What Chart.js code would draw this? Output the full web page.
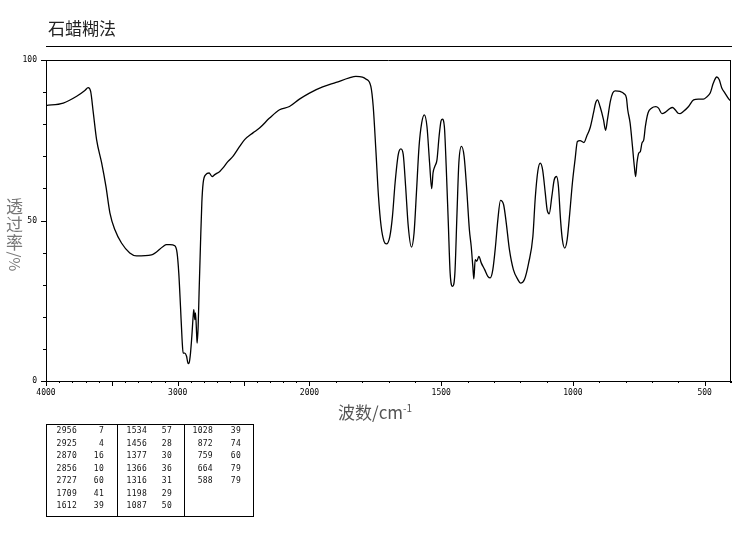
<!DOCTYPE html>
<html><head><meta charset="utf-8">
<script src="https://cdn.jsdelivr.net/npm/chart.js@4.4.1/dist/chart.umd.min.js"></script>
<style>
html,body{margin:0;padding:0;background:#fff;}
#wrap{position:relative;width:737px;height:539px;overflow:hidden;background:#fff;}
#c{position:absolute;left:0;top:0;}
#title{position:absolute;left:48px;top:19px;font-size:17px;line-height:17px;font-family:"Noto Sans CJK SC";color:#222;white-space:nowrap;}
#rule{position:absolute;left:46px;top:46px;width:686px;height:1px;background:#000;}
#ylab{position:absolute;left:6px;top:197px;width:17px;font-size:17px;line-height:18px;font-family:"Noto Sans CJK SC";color:#777;}
#ylab .ch{display:block;width:17px;height:18px;text-align:center;}
#ylab .rot{display:block;width:17px;height:18px;text-align:center;transform:rotate(90deg);transform-origin:50% 50%;font-size:15px;}
#xlab{position:absolute;left:338px;top:403px;font-size:17px;line-height:17px;font-family:"Noto Sans CJK SC";color:#555;white-space:nowrap;}
#xlab sup{font-size:10px;vertical-align:7px;line-height:0;}
#tbl{position:absolute;left:46px;top:424px;width:206px;height:91px;border:1px solid #000;}
#tbl .sep{position:absolute;top:0;width:1px;height:91px;background:#000;}
#tbl .cell{position:absolute;font-family:"DejaVu Sans Mono";font-size:8px;line-height:9px;letter-spacing:0.3px;color:#111;text-align:right;white-space:nowrap;}
</style>
</head><body>
<div id="wrap">
<canvas id="c" width="737" height="539"></canvas>
<div id="title">石蜡糊法</div>
<div id="rule"></div>
<div id="ylab"><span class="ch">透</span><span class="ch">过</span><span class="ch">率</span><span class="rot">/%</span></div>
<div id="xlab">波数/cm<sup>-1</sup></div>
<div id="tbl"></div>
</div>
<script>
// ---- data ----
const wavenumbers = [4000,3869,3767,3705,3680,3661,3641,3616,3578,3545,3515,3477,3427,3364,3313,3199,3111,3086,3060,3022,3005,2992,2979,2967,2959,2946,2933,2921,2914,2903,2893,2883,2878,2870,2865,2857,2853,2845,2838,2827,2817,2807,2787,2762,2739,2719,2681,2656,2618,2581,2530,2492,2429,2379,2303,2227,2152,2076,2000,1950,1899,1849,1824,1799,1786,1767,1758,1748,1738,1728,1717,1708,1695,1685,1675,1663,1653,1644,1635,1625,1613,1603,1594,1584,1574,1564,1554,1544,1536,1531,1524,1516,1508,1501,1496,1488,1481,1473,1466,1457,1448,1440,1433,1423,1413,1403,1393,1386,1380,1376,1371,1365,1357,1348,1335,1323,1314,1304,1294,1285,1275,1263,1253,1241,1226,1209,1199,1184,1168,1152,1143,1133,1124,1115,1105,1098,1090,1080,1071,1062,1055,1047,1040,1031,1022,1012,1002,992,983,973,958,948,935,922,914,907,897,884,876,869,858,849,840,821,806,797,792,783,774,767,762,757,750,744,738,731,725,715,702,685,675,662,650,635,622,612,602,593,580,561,542,524,505,492,479,467,454,445,435,423,408,400];
const transmittance = [85.8,86.6,88.7,90.5,91.4,90.2,83.6,75.2,68.0,60.6,52.4,47.1,43.0,39.9,39.0,39.3,41.9,42.5,42.5,42.1,39.9,33.6,23.2,12.9,8.7,8.7,7.7,5.4,5.6,8.7,13.9,20.1,22.2,19.1,21.2,15.0,11.8,17.0,27.4,43.0,55.5,61.7,64.3,64.8,63.7,64.3,65.3,66.4,68.4,70.0,73.1,75.2,77.3,78.8,81.9,84.5,85.5,87.8,89.7,91.6,93.0,94.4,94.9,94.7,94.1,91.8,85.5,72.0,57.5,48.2,43.5,42.7,45.0,51.3,61.7,70.5,72.3,70.5,60.6,48.2,41.7,46.1,58.6,73.1,80.4,82.9,79.3,67.9,59.9,64.8,66.9,68.9,76.2,80.9,81.6,79.3,66.9,49.2,33.6,29.5,33.6,52.3,67.9,73.1,70.0,59.6,47.1,41.9,35.7,31.8,37.8,37.3,38.8,36.8,34.7,32.6,32.1,34.7,41.9,50.2,56.3,54.9,49.2,40.9,34.7,31.6,30.5,31.6,36.8,45.0,57.0,65.5,67.9,65.8,58.6,53.4,52.1,57.5,62.7,63.7,60.6,50.2,44.0,41.4,44.0,52.3,61.7,68.9,74.6,74.9,74.3,76.2,78.8,83.5,86.6,87.6,85.5,81.4,78.1,81.4,87.1,89.7,90.4,90.2,89.5,88.2,84.5,80.4,73.1,66.9,63.7,67.9,71.0,71.5,74.1,75.2,79.3,83.5,85.0,85.5,85.0,83.3,83.7,84.7,85.2,84.5,83.5,83.3,84.0,85.5,87.6,87.8,87.8,88.5,89.7,92.8,94.7,93.9,91.3,89.7,87.8,87.2];
const xTickLabels = [4000,3000,2000,1500,1000,500];
const yTickLabels = [0,50,100];
const peakWn = [2956,2925,2870,2856,2727,1709,1612,1534,1456,1377,1366,1316,1198,1087,1028,872,759,664,588];
const peakT  = [7,4,16,10,60,41,39,57,28,30,36,31,29,50,39,74,60,79,79];

// ---- IR wavenumber scale: 4000-2000 at half the scale of 2000-400 ----
function irUnit(v){ return v >= 2000 ? (4000 - v) / 1000 : 2 + (2000 - v) / 500; }
function irFromUnit(u){ return u <= 2 ? 4000 - u * 1000 : 2000 - (u - 2) * 500; }
class IRScale extends Chart.LinearScale {
  static id = 'irwave';
  static defaults = {};
  buildTicks(){
    const t = [];
    for (let v = 400; v <= 4000; v += 100) t.push({value: v, major: v % 500 === 0});
    return t;
  }
  getPixelForValue(value){
    const u0 = irUnit(this.max), u1 = irUnit(this.min);
    return this.left + (irUnit(value) - u0) / (u1 - u0) * this.width;
  }
  getValueForPixel(pixel){
    const u0 = irUnit(this.max), u1 = irUnit(this.min);
    return irFromUnit(u0 + (pixel - this.left) / this.width * (u1 - u0));
  }
}
Chart.register(IRScale);

const frameTicks = {
  id: 'frameTicks',
  afterDraw(chart){
    const {ctx, chartArea: a, scales: {x, y}} = chart;
    ctx.save();
    ctx.strokeStyle = '#000';
    ctx.lineWidth = 1;
    ctx.beginPath();
    ctx.moveTo(a.left, Math.round(a.top) + 0.5); ctx.lineTo(a.right, Math.round(a.top) + 0.5);
    ctx.moveTo(Math.round(a.right) - 0.5, a.top); ctx.lineTo(Math.round(a.right) - 0.5, a.bottom + 2);
    x.ticks.forEach(t => {
      const px = Math.round(x.getPixelForValue(t.value)) + 0.5;
      const len = t.value % 500 === 0 ? 5 : 2;
      ctx.moveTo(px, a.bottom); ctx.lineTo(px, a.bottom + len);
    });
    y.ticks.forEach(t => {
      const py = Math.round(y.getPixelForValue(t.value)) + 0.5;
      const len = t.value % 50 === 0 ? 5 : 3;
      ctx.moveTo(a.left, py); ctx.lineTo(a.left - len, py);
    });
    ctx.stroke();
    ctx.restore();
  }
};

const tickFont = {family: 'DejaVu Sans Mono', size: 8};
new Chart(document.getElementById('c'), {
  type: 'line',
  data: {
    datasets: [{
      data: wavenumbers.map((w, i) => ({x: w, y: transmittance[i]})),
      borderColor: '#000',
      borderWidth: 1.3,
      pointRadius: 0,
      fill: false,
      cubicInterpolationMode: 'monotone'
    }]
  },
  options: {
    responsive: false,
    animation: false,
    events: [],
    layout: {padding: {left: 0, top: 60, right: 6, bottom: 138}},
    plugins: {legend: {display: false}, tooltip: {enabled: false}, title: {display: false}},
    scales: {
      x: {
        type: 'irwave', min: 400, max: 4000,
        grid: {display: false, drawTicks: false},
        border: {display: true, color: '#000', width: 1},
        ticks: {
          autoSkip: false, maxRotation: 0, padding: 7, color: '#000', font: tickFont,
          callback: v => xTickLabels.includes(v) ? String(v) : ''
        },
        afterFit: s => { s.height = 20; }
      },
      y: {
        type: 'linear', min: 0, max: 100,
        grid: {display: false, drawTicks: false},
        border: {display: true, color: '#000', width: 1},
        ticks: {
          stepSize: 10, autoSkip: false, padding: 9, color: '#000', font: tickFont,
          callback: v => yTickLabels.includes(v) ? String(v) : ''
        },
        afterFit: s => { s.width = 46; }
      }
    }
  },
  plugins: [frameTicks]
});

// ---- peak table ----
const tbl = document.getElementById('tbl');
const rowsPerCol = 7;
const colWnRight = [30, 100, 166];   // right edges relative to table box
const colTRight  = [57, 125, 194];
[70, 137].forEach(x => { const s = document.createElement('div'); s.className = 'sep'; s.style.left = x + 'px'; tbl.appendChild(s); });
peakWn.forEach((w, i) => {
  const col = Math.floor(i / rowsPerCol), row = i % rowsPerCol;
  const top = 1 + row * 12.5;
  const a = document.createElement('div');
  a.className = 'cell'; a.textContent = String(w);
  a.style.right = (206 - colWnRight[col]) + 'px'; a.style.top = top + 'px';
  const b = document.createElement('div');
  b.className = 'cell'; b.textContent = String(peakT[i]);
  b.style.right = (206 - colTRight[col]) + 'px'; b.style.top = top + 'px';
  tbl.appendChild(a); tbl.appendChild(b);
});
</script>
</body></html>
